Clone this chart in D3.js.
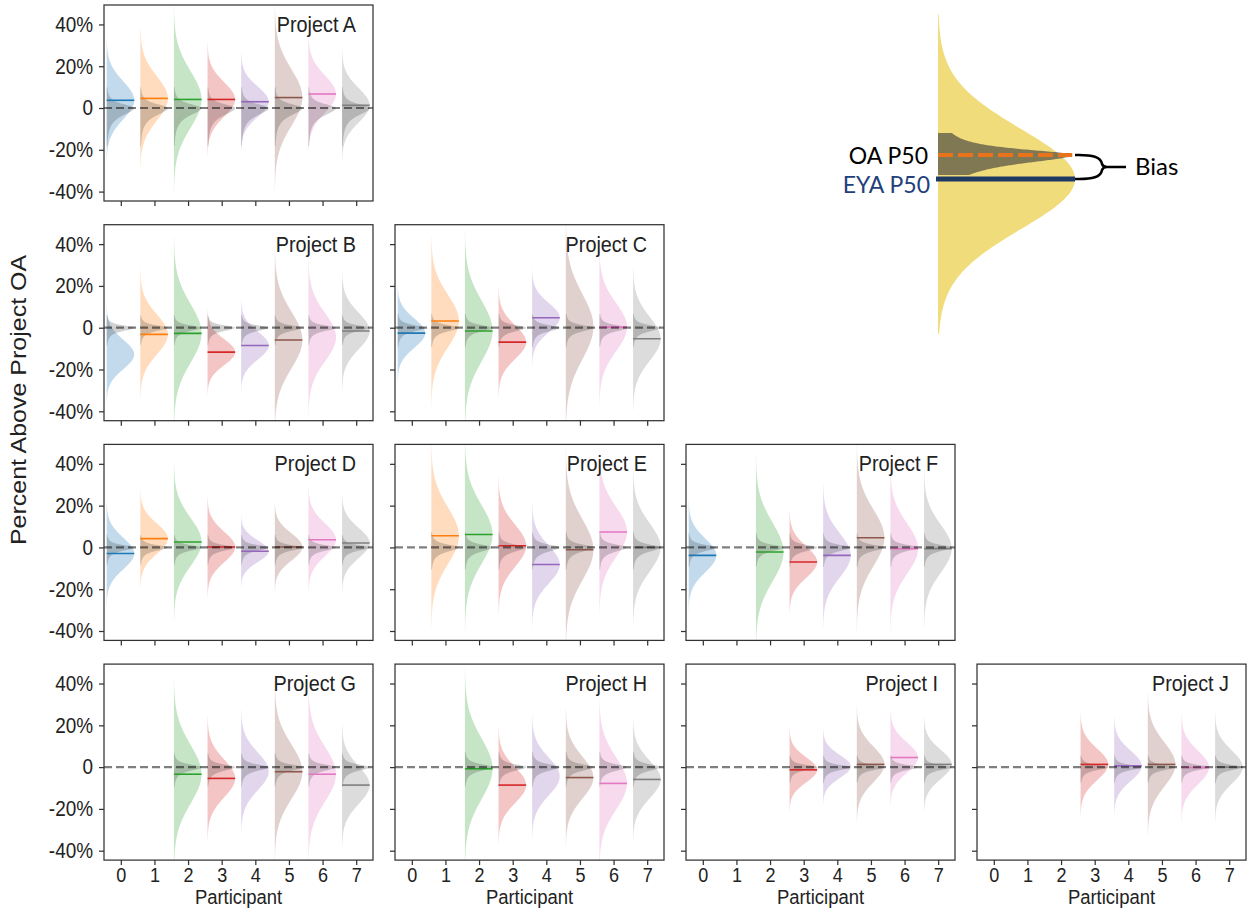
<!DOCTYPE html>
<html><head><meta charset="utf-8">
<script src="https://cdn.jsdelivr.net/npm/d3@7"></script>
<style>
body{margin:0;background:#fff;}
svg{display:block;font-family:"Liberation Sans",Arial,sans-serif;}
</style>
</head><body>
<svg id="chart" width="1252" height="913"></svg>
<script>
// ---------------- data ----------------
const participants = [0,1,2,3,4,5,6,7];
const colors = ["#1f77b4","#ff7f0e","#2ca02c","#d62728","#9467bd","#8c564b","#e377c2","#7f7f7f"];
const projects = ["Project A","Project B","Project C","Project D","Project E","Project F","Project G","Project H","Project I","Project J"];
const panelRow = [0,1,1,2,2,2,3,3,3,3];
const panelCol = [0,0,1,0,1,2,0,1,2,3];
const yTicks = [40,20,0,-20,-40];
const yTickLabels = ["40%","20%","0","-20%","-40%"];
const yDomain = [-44.5, 49.3];
const xDomain = [-0.5, 7.5];

// EYA P50 (percent above project OA) per project and participant; null = no estimate
const p50 = [
  [3.7, 4.6, 4.1, 4.1, 3.0, 5.0, 6.7, 1.3],
  [-12.8, -3.2, -2.7, -11.7, -8.5, -5.9, -4.5, -1.6],
  [-2.6, 3.2, -1.6, -6.9, 4.8, 0.5, 0.3, -5.3],
  [-2.9, 4.2, 2.6, 0.2, -1.8, 0.2, 3.7, 2.1],
  [null, 5.6, 6.2, 0.8, -8.2, -1.1, 7.4, 0.0],
  [-3.8, null, -2.2, -7.0, -3.8, 4.6, -0.6, -0.6],
  [null, null, -3.4, -5.4, -2.0, -2.2, -3.4, -8.6],
  [null, null, -0.8, -8.6, -4.5, -5.0, -7.8, -5.9],
  [null, null, null, -1.3, 0.3, 1.3, 4.6, 1.3],
  [null, null, null, 1.3, 0.6, 1.3, -0.2, 0.0]
];
// spread (standard deviation, %) of each EYA distribution
const spread = [
  [9.0, 10.5, 13.5, 8.2, 7.2, 13.5, 8.8, 8.2],
  [7.0, 9.5, 14.0, 6.2, 6.7, 13.5, 11.5, 8.7],
  [7.0, 12.5, 14.5, 8.0, 7.0, 15.5, 11.5, 10.5],
  [7.5, 7.2, 11.5, 7.3, 5.2, 6.5, 7.8, 7.2],
  [null, 13.5, 14.0, 10.0, 9.0, 14.5, 12.0, 11.5],
  [8.0, null, 14.0, 7.5, 10.5, 13.5, 12.0, 11.5],
  [null, null, 14.0, 9.0, 9.0, 13.0, 13.0, 9.0],
  [null, null, 14.5, 8.5, 9.0, 10.0, 12.5, 9.0],
  [null, null, null, 6.0, 5.5, 8.5, 7.2, 7.0],
  [null, null, null, 7.5, 7.2, 10.5, 8.0, 8.0]
];
// P50 markers not drawn in the original: [project index, participant]
const hiddenP50 = [[1,0],[1,6],[2,5],[6,4],[7,4],[8,4]];
// operational (OA) distribution scale above / below its P50, per project (%)
const oaUp   = [3.0, 1.8, 2.0, 1.8, 2.2, 2.0, 2.0, 2.2, 1.7, 1.7];
const oaDown = [5.5, 2.5, 2.8, 2.5, 3.2, 2.8, 2.8, 2.8, 2.3, 2.3];

// legend (schematic) values, in arbitrary units
const legendEYA = [0, 10];        // P50, spread
const legendEYARange = [-31, 33];
const legendOA = [4.8, 1.5, 2.2]; // P50, scale up, scale down
const legendOAExtent = [4.0, 4.4]; // extent below / above its P50
const legendLabels = ["OA P50", "EYA P50", "Bias"];

// ---------------- layout ----------------
const svg = d3.select("#chart");
const left0 = 104, top0 = 5, colStep = 291, rowStep = 219.7, pw = 269, ph = 196;
const textColor = "#222";
const spineColor = "#333";
const sx = 0.88; // horizontal squeeze of the reference lettering

function gaussPts(c, s, k) {
  const lo = c - k*s, hi = c + k*s, n = 160;
  return d3.range(n+1).map(i => { const v = lo + (hi-lo)*i/n; return {v, w: Math.exp(-0.5*((v-c)/s)**2)}; });
}
function peakPts(c, up, dn, loOff, hiOff, pw_) {
  const lo = c - loOff, hi = c + hiOff, n = 200;
  const pts = d3.range(n+1).map(i => lo + (hi-lo)*i/n);
  pts.push(c); pts.sort((a,b)=>a-b);
  return pts.map(v => { const d = v - c; const s = d >= 0 ? up : dn; return {v, w: Math.pow(1/(1+(d/s)**2), pw_)}; });
}

projects.forEach((name, pi) => {
  const L = left0 + panelCol[pi]*colStep;
  const T = top0 + panelRow[pi]*rowStep;
  const x = d3.scaleLinear().domain(xDomain).range([L, L+pw]);
  const y = d3.scaleLinear().domain(yDomain).range([T+ph, T]);
  const unit = x(1) - x(0);
  const maxW = 0.82*unit;
  const g = svg.append("g");
  const clipId = "clip"+pi;
  g.append("clipPath").attr("id", clipId).append("rect")
    .attr("x", L).attr("y", T).attr("width", pw).attr("height", ph);
  const plot = g.append("g").attr("clip-path", `url(#${clipId})`);

  participants.forEach(p => {
    const m = p50[pi][p];
    if (m === null) return;
    const base = x(p - 0.42);
    const area = d3.area().y(d => y(d.v)).x0(base).x1(d => base + d.w*maxW);
    plot.append("path").datum(gaussPts(m, spread[pi][p], 3.3))
      .attr("d", area).attr("fill", colors[p]).attr("fill-opacity", 0.27);
    plot.append("path").datum(peakPts(0, oaUp[pi], oaDown[pi], 3.3*oaDown[pi], 3.3*oaUp[pi], 1.5))
      .attr("d", area).attr("fill", "#1a1a1a").attr("fill-opacity", 0.2);
  });
  participants.forEach(p => {
    const m = p50[pi][p];
    if (m === null) return;
    if (hiddenP50.some(h => h[0] === pi && h[1] === p)) return;
    plot.append("line")
      .attr("x1", x(p - 0.42)).attr("x2", x(p + 0.4))
      .attr("y1", y(m)).attr("y2", y(m))
      .attr("stroke", colors[p]).attr("stroke-width", 1.6);
  });
  plot.append("line")
    .attr("x1", x(xDomain[0])).attr("x2", x(xDomain[1]))
    .attr("y1", y(0)).attr("y2", y(0))
    .attr("stroke", "#000").attr("stroke-opacity", 0.5)
    .attr("stroke-width", 2.2).attr("stroke-dasharray", "8,4");

  // axes
  const yAxis = d3.axisLeft(y).tickValues(yTicks).tickSize(5).tickPadding(6)
    .tickFormat((d,i) => panelCol[pi] === 0 ? yTickLabels[i] : "");
  const ay = g.append("g").attr("transform", `translate(${L},0)`).call(yAxis);
  const isBottom = panelRow[pi] === 3;
  const xAxis = d3.axisBottom(x).tickValues(participants).tickSize(5).tickPadding(2)
    .tickFormat(d => isBottom ? String(d) : "");
  const ax = g.append("g").attr("transform", `translate(0,${T+ph})`).call(xAxis);
  [ay, ax].forEach(a => {
    a.select(".domain").remove();
    a.selectAll(".tick line").attr("stroke", spineColor).attr("stroke-width", 1.25);
    a.selectAll(".tick text").attr("fill", textColor).style("font-size", "20.5px")
      .style("font-family", '"Liberation Sans",Arial,sans-serif')
      .attr("transform", `scale(${sx},1)`);
  });
  ay.selectAll(".tick text").style("font-size", "21.5px").attr("x", -11/sx);
  g.append("rect").attr("x", L).attr("y", T).attr("width", pw).attr("height", ph)
    .attr("fill", "none").attr("stroke", spineColor).attr("stroke-width", 1.25);

  g.append("text").attr("transform", `translate(${L + pw - 17},${T + 27}) scale(${sx},1)`)
    .attr("text-anchor", "end").attr("fill", textColor)
    .style("font-size", "22.5px").text(name);

  if (isBottom) {
    g.append("text").attr("transform", `translate(${L + pw/2},${T + ph + 44}) scale(${sx},1)`)
      .attr("text-anchor", "middle").attr("fill", textColor)
      .style("font-size", "21px").text("Participant");
  }
});

svg.append("text").attr("transform", `translate(26,400) rotate(-90) scale(1,${sx})`)
  .attr("text-anchor", "middle").attr("fill", textColor)
  .style("font-size", "25px").text("Percent Above Project OA");

// ---------------- legend schematic ----------------
const lx = d3.scaleLinear().domain([0,1]).range([938, 1075]);
const ly = d3.scaleLinear().domain([-31, 33]).range([334, 14]);
const lg = svg.append("g");
const lArea = d3.area().y(d => ly(d.v)).x0(lx(0)).x1(d => lx(d.w));
const eyaPts = gaussPts(legendEYA[0], legendEYA[1], 3.3)
  .filter(d => d.v >= legendEYARange[0] && d.v <= legendEYARange[1]);
lg.append("path").datum(eyaPts).attr("d", lArea).attr("fill", "#f1dc7b");
const oaPts = peakPts(legendOA[0], legendOA[1], legendOA[2], legendOAExtent[0], legendOAExtent[1], 1)
  .map(d => ({v: d.v, w: d.w*0.98}));
lg.append("path").datum(oaPts).attr("d", lArea).attr("fill", "#3a3a3a").attr("fill-opacity", 0.62);
lg.append("line").attr("x1", lx(0)).attr("x2", lx(0.98))
  .attr("y1", ly(legendOA[0])).attr("y2", ly(legendOA[0]))
  .attr("stroke", "#e8731a").attr("stroke-width", 4).attr("stroke-dasharray", "15,5");
lg.append("line").attr("x1", lx(0) - 2).attr("x2", lx(1))
  .attr("y1", ly(legendEYA[0])).attr("y2", ly(legendEYA[0]))
  .attr("stroke", "#1f3864").attr("stroke-width", 5);
// brace
const bx = lx(1), yTop = ly(legendOA[0]), yBot = ly(legendEYA[0]), yMid = (yTop + yBot)/2;
const brace = d3.path();
brace.moveTo(bx, yTop);
brace.bezierCurveTo(bx+18, yTop-0.5, bx+26, yTop+2, bx+27, yMid-3);
brace.bezierCurveTo(bx+28, yMid, bx+30, yMid, bx+32, yMid);
brace.lineTo(bx+51, yMid);
brace.moveTo(bx, yBot);
brace.bezierCurveTo(bx+18, yBot+0.5, bx+26, yBot-2, bx+27, yMid+3);
brace.bezierCurveTo(bx+28, yMid, bx+30, yMid, bx+32, yMid);
lg.append("path").attr("d", brace.toString()).attr("fill", "none")
  .attr("stroke", "#000").attr("stroke-width", 2.5);
const lfont = 'Lato,"Open Sans",sans-serif';
lg.append("text").attr("x", lx(0) - 10).attr("y", yTop + 9).attr("text-anchor", "end")
  .attr("fill", "#000").style("font-family", lfont).style("font-size", "23px").text(legendLabels[0]);
lg.append("text").attr("x", lx(0) - 8).attr("y", yBot + 14).attr("text-anchor", "end")
  .attr("fill", "#22407a").style("font-family", lfont).style("font-size", "23px").text(legendLabels[1]);
lg.append("text").attr("x", bx + 60).attr("y", yMid + 8).attr("text-anchor", "start")
  .attr("fill", "#000").style("font-family", lfont).style("font-size", "24px").text(legendLabels[2]);
</script>
</body></html>
